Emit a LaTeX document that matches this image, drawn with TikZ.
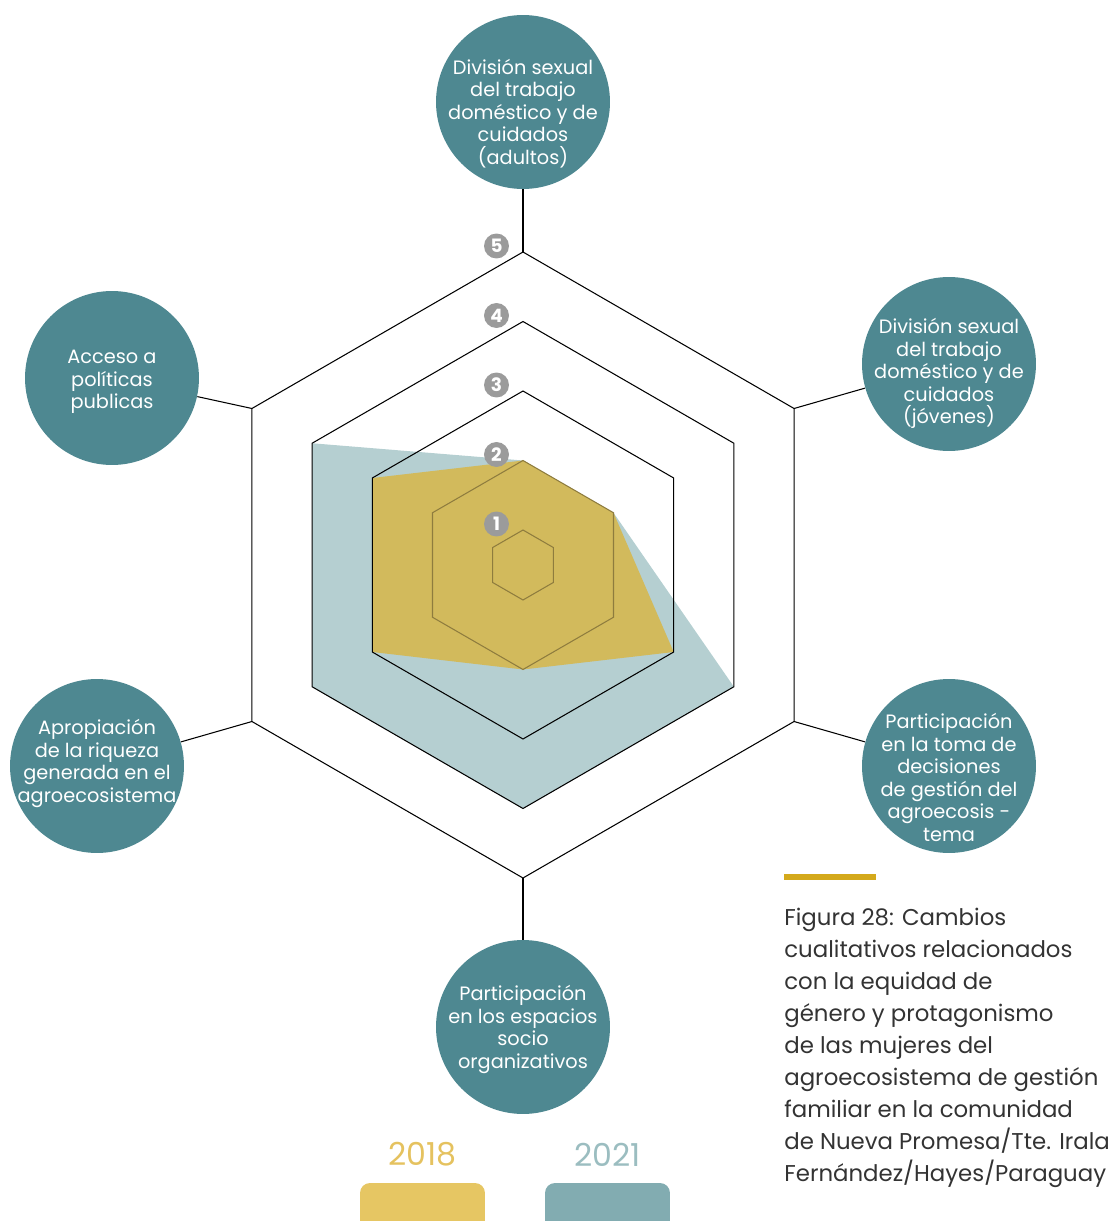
\documentclass[tikz,border=0pt]{standalone}
\usepackage{fontspec}
\setmainfont{Poppins}
\usetikzlibrary{positioning}
\definecolor{petrol}{HTML}{4E8891}
\definecolor{petrolclaro}{HTML}{B5CFD1}
\definecolor{mostaza}{HTML}{D2BA5C}
\definecolor{oliva}{HTML}{8E7C3E}
\definecolor{oro}{HTML}{D4A91B}
\definecolor{legamar}{HTML}{E6C663}
\definecolor{legteal}{HTML}{82ACB1}
\definecolor{txtamar}{HTML}{E5C25F}
\definecolor{txtteal}{HTML}{9BBDC0}
\definecolor{gris}{HTML}{9B9B9B}
\definecolor{texto}{HTML}{333333}

\begin{document}
\begin{tikzpicture}[
          x=0.02cm, y=0.02cm,
          node distance=0.32cm and .5cm,
          cat/.style={circle,fill=petrol,minimum size=3.48cm,inner sep=0pt},
          cattxt/.style={text=white,inner sep=0pt,align=center,font=\fontsize{11}{12.8}\selectfont},
          num/.style={circle,fill=gris,text=white,minimum size=0.5cm,inner sep=0pt,font=\fontsize{10.5}{10.5}\selectfont\bfseries},
          leg/.style={rounded corners=0.2cm,minimum width=2.5cm,minimum height=1cm,inner sep=0pt}
            ]
    \useasboundingbox (-523,-656) rectangle (588,565);
    % datos 2021 y 2018
    \fill[petrolclaro] (90:104.5) -- (30:104.5) -- (-30:243.5) -- (-90:243.5) -- (-150:243.5) -- (150:243.5) -- cycle;
    \fill[mostaza] (90:104.5) -- (30:104.5) -- (-30:174) -- (-90:104.5) -- (-150:174) -- (150:174) -- cycle;
    % hexagonos
    \foreach \r/\c in {35/oliva,104.5/oliva,174/black,243.5/black,313/black}
      \draw[\c,line width=0.6pt] (90:\r) -- (30:\r) -- (-30:\r) -- (-90:\r) -- (-150:\r) -- (150:\r) -- cycle;
    \foreach \a/\n in {90/adultos,30/jovenes,-30/decisiones,-90/espacios,-150/riqueza,150/politicas}
      \coordinate (v\n) at (\a:313);
    % categorias
    \node[cat] (adultos) at (0,463) {};
    \node[cat] (jovenes) at (426,201) {};
    \node[cat] (decisiones) at (426,-201) {};
    \node[cat] (espacios) at (0,-462) {};
    \node[cat] (riqueza) at (-426,-201) {};
    \node[cat] (politicas) at (-411,187) {};
    \node[cattxt] (tadultos) at ([yshift=-0.23cm]adultos) {División sexual\\del trabajo\\doméstico y de\\cuidados\\(adultos)};
    \node[cattxt] (tjovenes) at ([yshift=-0.19cm]jovenes) {División sexual\\del trabajo\\doméstico y de\\cuidados\\(jóvenes)};
    \node[cattxt] (tdecisiones) at ([yshift=-0.23cm]decisiones) {Participación\\en la toma de\\decisiones\\de gestión del\\agroecosis -\\tema};
    \node[cattxt] (tespacios) at ([yshift=-0.05cm]espacios) {Participación\\en los espacios\\socio\\organizativos};
    \node[cattxt] (triqueza) at ([yshift=0.05cm]riqueza) {Apropiación\\de la riqueza\\generada en el\\agroecosistema};
    \node[cattxt] (tpoliticas) at ([yshift=-0.08cm]politicas) {Acceso a\\políticas\\publicas};
    \foreach \n in {adultos,jovenes,decisiones,espacios,riqueza,politicas}
      \draw[line width=0.6pt] (v\n) -- (\n);
    % escala
    \foreach \k/\r in {1/35,2/104.5,3/174,4/243.5,5/313}
      \node[num] (n\k) at (-26.5,\r+6) {\k};
    % leyenda
    \node[leg,fill=legamar] (l18) at (-100.5,-643) {};
    \node[above=of l18,inner sep=0pt,text=txtamar,font=\fontsize{18}{18}\selectfont] (t18) {2018};
    \node[leg,fill=legteal] (l21) at (84.5,-643) {};
    \node[above=of l21,inner sep=0pt,text=txtteal,font=\fontsize{18}{18}\selectfont] (t21) {2021};
    % pie de figura
    \fill[oro] (261,-309) rectangle (353,-315);
    \node[anchor=north west,inner sep=0pt,align=left,text=texto,font=\fontsize{13}{18.2}\selectfont] (pie) at (261,-343)
      {Figura 28: Cambios\\cualitativos relacionados\\con la equidad de\\género y protagonismo\\de las mujeres del\\agroecosistema de gestión\\familiar en la comunidad\\de Nueva Promesa/Tte. Irala\\Fernández/Hayes/Paraguay};
\end{tikzpicture}
\end{document}
